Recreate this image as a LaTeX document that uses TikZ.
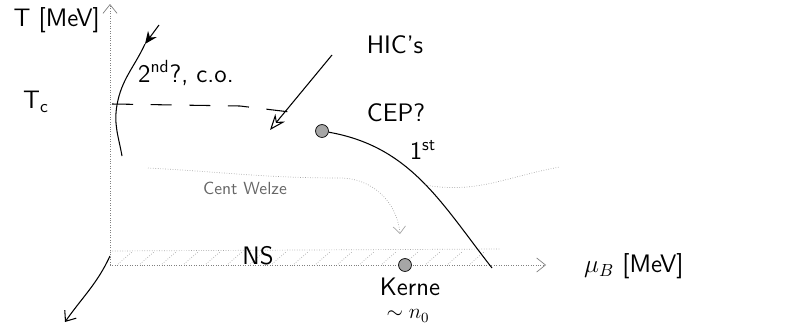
\documentclass[tikz,border=0pt]{standalone}
\usetikzlibrary{arrows.meta, positioning}
\tikzstyle{axis} = [
    densely dotted,
    gray,
    -{Straight Barb[length=5pt,width=8pt]}
]
\tikzstyle{pen} = [black, semithick]
\tikzstyle{faint} = [densely dotted, gray!70]
\tikzstyle{hand} = [font=\sffamily\Large]
\tikzstyle{dot} = [
    circle,
    draw=black,
    fill=gray!70,
    inner sep=2.6pt
]

\begin{document}
\begin{tikzpicture}[x=0.02cm, y=-0.02cm, node distance=1pt]
\useasboundingbox (0,0) rectangle (790,328);

% axes
\coordinate (origin) at (110,265);
\coordinate (tend) at (110,4);
\coordinate (muend) at (546,265);
\coordinate (zstart) at (110,256);
\coordinate (zend) at (65,322);

\draw [axis] (origin) -- (tend);
\draw [axis] (origin) -- (muend);
\draw [pen, -{Straight Barb[length=5pt,width=8pt]}] (zstart) to[out=-115, in=55] (zend);

% nuclear matter band
\draw [faint] (110,251) -- (500,249);
\foreach \x in {118,140,...,490}
    \draw [faint] (\x,264) -- (\x+14,252);

\node (tlabel) [hand, anchor=east] at (106,20) {T [MeV]};
\node (tc) [hand] at (36,102) {T\textsubscript{c}};
\node (mulabel) [hand, anchor=west] at (578,266) {$\mu_B$ [MeV]};
\node (ns) [hand] at (258,256) {NS};

\node (kerne) [dot] at (405,265) {};
\node (kernetext) [hand, inner sep=0pt] at (410,287) {Kerne};
\node (n0) [font=\sffamily\large, inner sep=0pt] at (408,316) {$\sim n_0$};

% crossover
\coordinate (cotop) at (145,44);
\coordinate (cobot) at (122,156);
\draw [pen, -{Stealth[length=7pt,width=6pt]}] (159,25) -- (cotop);
\draw [pen] (cotop) to[out=-115, in=80] (117,105) to[out=-100, in=100] (cobot);
\node (co) [hand, anchor=west] at (132,73) {2\textsuperscript{nd}?, c.o.};

% T_c line
\coordinate (tcend) at (290,112);
\draw [pen, dashed, dash pattern=on 12pt off 10pt] (112,104) -- (240,106) -- (tcend);

% heavy ion collisions
\node (hic) [hand] at (395,45) {HIC's};
\coordinate (hicstart) at (332,55);
\coordinate (hicend) at (270,130);
\draw [pen, -{Stealth[open,length=9pt,width=7pt]}] (hicstart) -- (hicend);

% critical end point and first order line
\node (cep) [dot] at (322,131) {};
\node (ceptext) [hand] at (396,113) {CEP?};
\node (first) [hand] at (423,150) {1\textsuperscript{st}};
\coordinate (firstend) at (492,268);
\draw [pen] (cep) to[out=-10, in=128] (firstend);

% faint transition lines
\coordinate (fstart) at (148,168);
\coordinate (fmid) at (340,178);
\coordinate (fend) at (400,234);
\draw [faint, -{Straight Barb[length=4pt,width=7pt]}] (fstart) to[out=-3, in=180] (fmid) to[out=0, in=95] (fend);
\draw [faint] (425,185) to[out=-10, in=190] (560,167);
\node (cw) [font=\sffamily\normalsize, text=gray!80!black] at (245,188) {Cent Welze};

\end{tikzpicture}
\end{document}
